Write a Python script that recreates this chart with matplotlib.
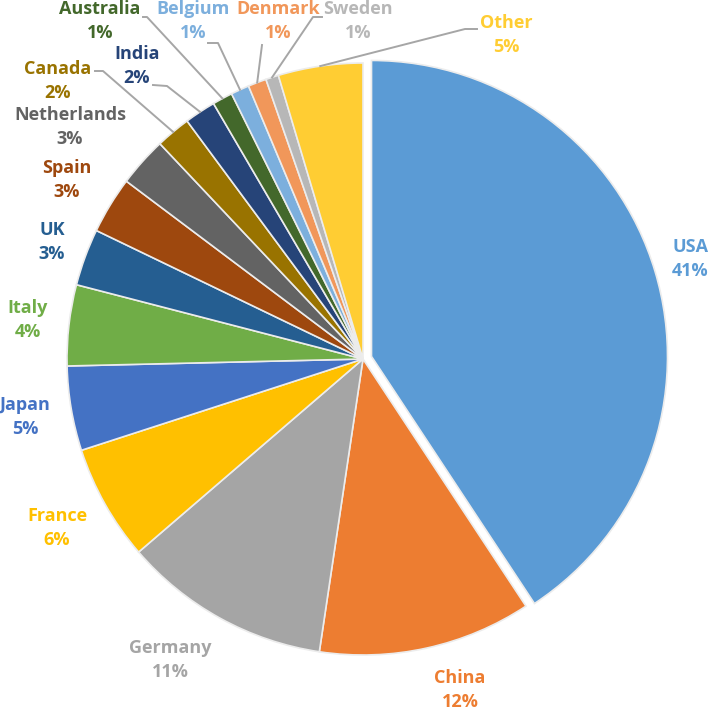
import matplotlib.pyplot as plt
import numpy as np

# share of total
countries = ['USA', 'China', 'Germany', 'France', 'Japan', 'Italy', 'UK', 'Spain',
             'Netherlands', 'Canada', 'India', 'Australia', 'Belgium', 'Denmark',
             'Sweden', 'Other']
shares = [40.6, 11.6, 11.3, 6.3, 4.6, 4.4, 3.1, 3.1, 2.7, 1.9, 1.7, 1.1, 1.0, 1.0, 0.7, 4.6]
colors = ['#5B9BD5', '#ED7D31', '#A5A5A5', '#FFC000', '#4472C4', '#70AD47', '#255E91',
          '#9E480E', '#636363', '#997300', '#264478', '#43682B', '#7CAFDD', '#F1975A',
          '#B7B7B7', '#FFCD33']

# label centres in pixels of the 709x710 picture
label_px = {
    'USA': (690, 259), 'China': (460, 690), 'Germany': (170, 660), 'France': (57, 528),
    'Japan': (25, 417), 'Italy': (28, 320), 'UK': (52, 242), 'Spain': (67, 180),
    'Netherlands': (70, 127), 'Canada': (58, 81), 'India': (137, 66),
    'Australia': (100, 21), 'Belgium': (193, 21), 'Denmark': (278, 21),
    'Sweden': (358, 21), 'Other': (506, 35),
}
# leader line start points (pixels), the line then runs to the wedge edge
leader_px = {
    'Other': [(477, 29), (465, 29)],
    'Sweden': [(322, 17), (313, 17)],
    'Denmark': [(262, 45)],
    'Belgium': [(208, 43), (218, 43)],
    'Australia': [(143, 17), (147, 17)],
    'India': [(153, 85), (167, 86)],
    'Canada': [(95, 71), (103, 71)],
}

W, H = 709, 710
cx, cy, R = 363, 359, 296


def px(x, y):
    return ((x - cx) / R, (cy - y) / R)


fig = plt.figure(figsize=(W / 100, H / 100), dpi=100)
ax = fig.add_axes([0, 0, 1, 1])

explode = [0.03 if c == 'USA' else 0 for c in countries]
wedges, _ = ax.pie(shares, colors=colors, startangle=90, counterclock=False,
                   explode=explode, radius=1,
                   wedgeprops=dict(edgecolor='#ececec', linewidth=1.2))
ax.set_aspect('auto')
ax.set_xlim(-cx / R, (W - cx) / R)
ax.set_ylim(-(H - cy) / R, cy / R)
ax.axis('off')

total = sum(shares)
for w, name, val, col in zip(wedges, countries, shares, colors):
    x, y = px(*label_px[name])
    ax.text(x, y, f'{name}\n{round(val / total * 100)}%', ha='center', va='center',
            color=col, fontsize=13, fontweight='bold', family='Open Sans', linespacing=1.4)
    if name in leader_px:
        theta = np.deg2rad((w.theta1 + w.theta2) / 2)
        pts = [px(*p) for p in leader_px[name]] + [(np.cos(theta), np.sin(theta))]
        xs, ys = zip(*pts)
        ax.plot(xs, ys, color='#A6A6A6', linewidth=1.4)

plt.savefig('out.png', dpi=100)
